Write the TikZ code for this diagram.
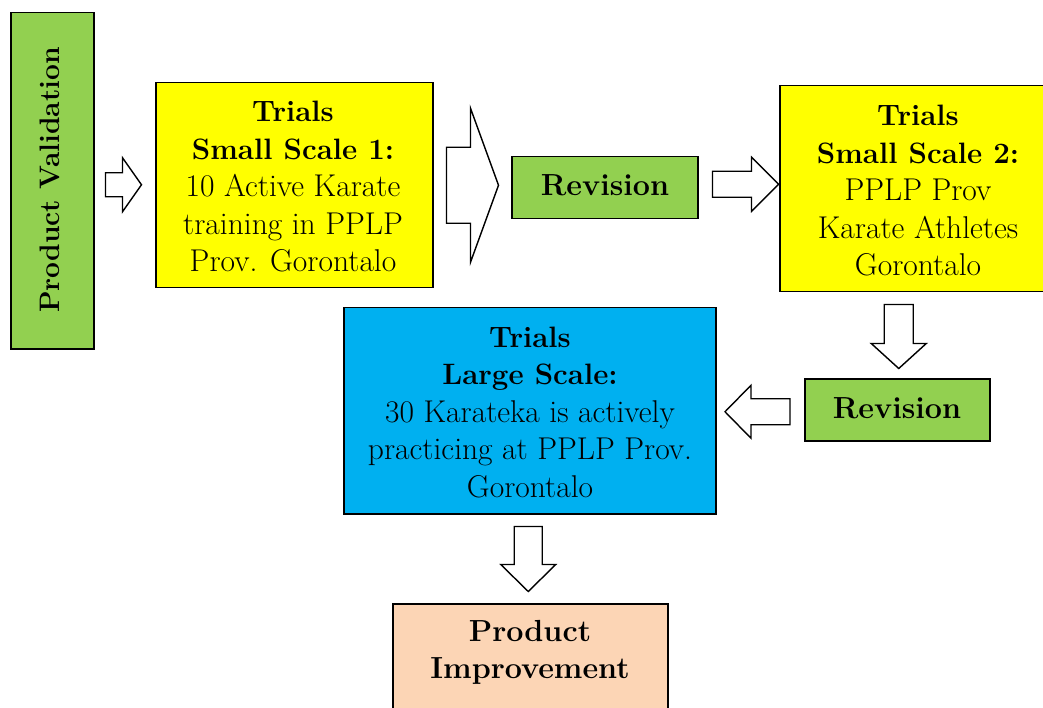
\documentclass[tikz,border=0pt]{standalone}
\usetikzlibrary{calc}
\definecolor{vgreen}{HTML}{92D050}
\definecolor{vyellow}{HTML}{FFFF00}
\definecolor{vblue}{HTML}{00B0F0}
\definecolor{vpeach}{HTML}{FCD5B5}
\newcommand\hd[1]{{\fontsize{29.5}{37.5}\selectfont\bfseries #1}}
% #1 tail coordinate, #2 rotation, #3 length, #4 shaft half width, #5 head half width, #6 head length
\newcommand\blockarr[6]{%
  \draw[arr, shift={(#1)}, rotate=#2]
    (0,{-#4}) -- ({#3-#6},{-#4}) -- ({#3-#6},{-#5}) -- (#3,0) --
    ({#3-#6},{#5}) -- ({#3-#6},{#4}) -- (0,{#4}) -- cycle;}
\begin{document}
\begin{tikzpicture}[x=1pt,y=-1pt,
  box/.style={draw=black, line width=1.5pt, inner sep=0pt, align=center,
    anchor=north west},
  txt/.style={inner sep=0pt, align=center, font=\fontsize{31.5}{37.5}\selectfont},
  btxt/.style={inner sep=0pt, align=center, font=\fontsize{30.5}{37.5}\selectfont\bfseries},
  arr/.style={draw=black, fill=white, line width=1.4pt, line join=miter}]
\useasboundingbox (0,0) rectangle (1043,708);

\node[box, fill=vgreen, minimum width=83pt, minimum height=336pt] (pv) at (10,12) {};
\node[btxt, rotate=90, font=\fontsize{28.2}{37.5}\selectfont\bfseries] (pvt) at (50,180) {Product Validation};

\node[box, fill=vyellow, minimum width=277pt, minimum height=205pt] (ss1) at (155,82) {};
\node[txt] (ss1t) at (293,187) {\hd{Trials}\\\hd{Small Scale 1:}\\10 Active Karate\\training in PPLP\\Prov. Gorontalo};

\node[box, fill=vgreen, minimum width=186pt, minimum height=62pt] (rev1) at (511,156) {};
\node[btxt] (rev1t) at (605,185) {Revision};

\node[box, fill=vyellow, minimum width=264pt, minimum height=206pt] (ss2) at (779,85) {};
\node[txt] (ss2t) at (918,191) {\hd{Trials}\\\hd{Small Scale 2:}\\PPLP Prov\\Karate Athletes\\Gorontalo};

\node[box, fill=vgreen, minimum width=185pt, minimum height=62pt] (rev2) at (804,378) {};
\node[btxt] (rev2t) at (897,408) {Revision};

\node[box, fill=vblue, minimum width=372pt, minimum height=206pt] (ls) at (343,307) {};
\node[txt] (lst) at (530,412.5) {\hd{Trials}\\\hd{Large Scale:}\\30 Karateka is actively\\practicing at PPLP Prov.\\Gorontalo};

\node[box, fill=vpeach, minimum width=275pt, minimum height=115pt] (pi) at (392,603) {};
\node[btxt] (pit) at (530,652.5) {Product\\Improvement};

% block arrows between the boxes
\coordinate (a1) at ($(pv.east)+(11,4)$);
\coordinate (a2) at ($(ss1.east)+(13,0)$);
\coordinate (a3) at ($(rev1.east)+(14,-3.5)$);
\coordinate (a4) at ($(ss2.south)+(-13,12)$);
\coordinate (a5) at ($(rev2.west)+(-14,2)$);
\coordinate (a6) at ($(ls.south)+(-1.5,12)$);
\blockarr{a1}{0}{36}{12}{27}{19}
\blockarr{a2}{0}{52}{38}{77}{28}
\blockarr{a3}{0}{66}{13}{27}{27}
\blockarr{a4}{-90}{64}{14.5}{27.5}{25}
\blockarr{a5}{180}{65}{13}{26.5}{26}
\blockarr{a6}{-90}{65}{14}{27.5}{27}
\end{tikzpicture}
\end{document}
